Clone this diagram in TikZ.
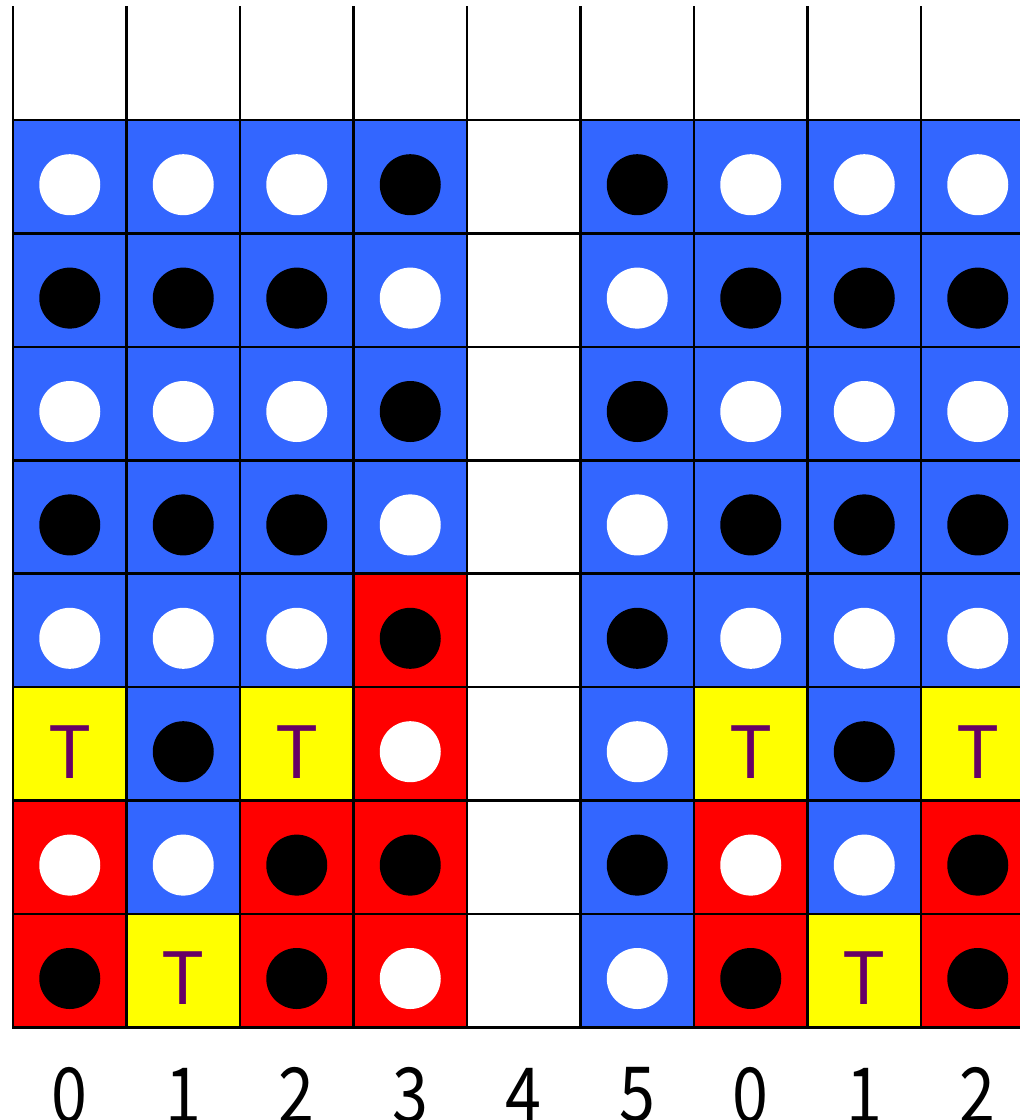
\documentclass[tikz,border=0pt]{standalone}
\usepackage{fontspec}
\newfontfamily\jpfont{Noto Sans CJK JP}
\definecolor{cblue}{HTML}{3366FF}
\definecolor{cred}{HTML}{FF0000}
\definecolor{cyellow}{HTML}{FFFF00}
\definecolor{tpurple}{HTML}{660066}
\newcommand\mycell[5]{%
  \node[cellbox, fill=#3] (cell-#1-#2) at ({13+113.5*#1+56.75},{120+113.4*#2+56.7}) {};
  \node[#4] (tok-#1-#2) at ([yshift=-8pt]cell-#1-#2.center) {#5};
}
\newcommand\emptycell[2]{%
  \node[cellbox, fill=white] (cell-#1-#2) at ({13+113.5*#1+56.75},{120+113.4*#2+56.7}) {};
}
\newcommand\narrow[1]{\scalebox{0.85}[1]{#1}}
\begin{document}
\begin{tikzpicture}[x=1pt,y=-1pt,
  cellbox/.style={rectangle, draw=black, line width=2.6pt, minimum width=113.5pt, minimum height=113.4pt, inner sep=0pt},
  tokw/.style={circle, fill=white, minimum size=61pt, inner sep=0pt},
  tokk/.style={circle, fill=black, minimum size=61pt, inner sep=0pt},
  tokt/.style={inner sep=0pt, text=tpurple, font=\jpfont\fontsize{72}{72}\selectfont},
  lbl/.style={inner sep=0pt, font=\jpfont\fontsize{76}{76}\selectfont},
  topline/.style={line width=2.6pt, draw=black}]
\useasboundingbox (0,0) rectangle (1020,1120);
\clip (0,0) rectangle (1020,1120);
% top open row
\foreach \c in {0,...,8} {
  \coordinate (top-\c) at ({13+113.5*\c},6);
  \coordinate (base-\c) at ({13+113.5*\c},120);
  \draw[topline] (top-\c) -- (base-\c);
}
% row 0
\mycell{0}{0}{cblue}{tokw}{}
\mycell{1}{0}{cblue}{tokw}{}
\mycell{2}{0}{cblue}{tokw}{}
\mycell{3}{0}{cblue}{tokk}{}
\emptycell{4}{0}
\mycell{5}{0}{cblue}{tokk}{}
\mycell{6}{0}{cblue}{tokw}{}
\mycell{7}{0}{cblue}{tokw}{}
\mycell{8}{0}{cblue}{tokw}{}
% row 1
\mycell{0}{1}{cblue}{tokk}{}
\mycell{1}{1}{cblue}{tokk}{}
\mycell{2}{1}{cblue}{tokk}{}
\mycell{3}{1}{cblue}{tokw}{}
\emptycell{4}{1}
\mycell{5}{1}{cblue}{tokw}{}
\mycell{6}{1}{cblue}{tokk}{}
\mycell{7}{1}{cblue}{tokk}{}
\mycell{8}{1}{cblue}{tokk}{}
% row 2
\mycell{0}{2}{cblue}{tokw}{}
\mycell{1}{2}{cblue}{tokw}{}
\mycell{2}{2}{cblue}{tokw}{}
\mycell{3}{2}{cblue}{tokk}{}
\emptycell{4}{2}
\mycell{5}{2}{cblue}{tokk}{}
\mycell{6}{2}{cblue}{tokw}{}
\mycell{7}{2}{cblue}{tokw}{}
\mycell{8}{2}{cblue}{tokw}{}
% row 3
\mycell{0}{3}{cblue}{tokk}{}
\mycell{1}{3}{cblue}{tokk}{}
\mycell{2}{3}{cblue}{tokk}{}
\mycell{3}{3}{cblue}{tokw}{}
\emptycell{4}{3}
\mycell{5}{3}{cblue}{tokw}{}
\mycell{6}{3}{cblue}{tokk}{}
\mycell{7}{3}{cblue}{tokk}{}
\mycell{8}{3}{cblue}{tokk}{}
% row 4
\mycell{0}{4}{cblue}{tokw}{}
\mycell{1}{4}{cblue}{tokw}{}
\mycell{2}{4}{cblue}{tokw}{}
\mycell{3}{4}{cred}{tokk}{}
\emptycell{4}{4}
\mycell{5}{4}{cblue}{tokk}{}
\mycell{6}{4}{cblue}{tokw}{}
\mycell{7}{4}{cblue}{tokw}{}
\mycell{8}{4}{cblue}{tokw}{}
% row 5
\mycell{0}{5}{cyellow}{tokt}{T}
\mycell{1}{5}{cblue}{tokk}{}
\mycell{2}{5}{cyellow}{tokt}{T}
\mycell{3}{5}{cred}{tokw}{}
\emptycell{4}{5}
\mycell{5}{5}{cblue}{tokw}{}
\mycell{6}{5}{cyellow}{tokt}{T}
\mycell{7}{5}{cblue}{tokk}{}
\mycell{8}{5}{cyellow}{tokt}{T}
% row 6
\mycell{0}{6}{cred}{tokw}{}
\mycell{1}{6}{cblue}{tokw}{}
\mycell{2}{6}{cred}{tokk}{}
\mycell{3}{6}{cred}{tokk}{}
\emptycell{4}{6}
\mycell{5}{6}{cblue}{tokk}{}
\mycell{6}{6}{cred}{tokw}{}
\mycell{7}{6}{cblue}{tokw}{}
\mycell{8}{6}{cred}{tokk}{}
% row 7
\mycell{0}{7}{cred}{tokk}{}
\mycell{1}{7}{cyellow}{tokt}{T}
\mycell{2}{7}{cred}{tokk}{}
\mycell{3}{7}{cred}{tokw}{}
\emptycell{4}{7}
\mycell{5}{7}{cblue}{tokw}{}
\mycell{6}{7}{cred}{tokk}{}
\mycell{7}{7}{cyellow}{tokt}{T}
\mycell{8}{7}{cred}{tokk}{}
% column labels
\foreach \c/\t in {0/0,1/1,2/2,3/3,4/4,5/5,6/0,7/1,8/2} {
  \node[lbl] (lbl-\c) at ({13+113.5*\c+56.75},1095) {\narrow{\t}};
}
\end{tikzpicture}
\end{document}
